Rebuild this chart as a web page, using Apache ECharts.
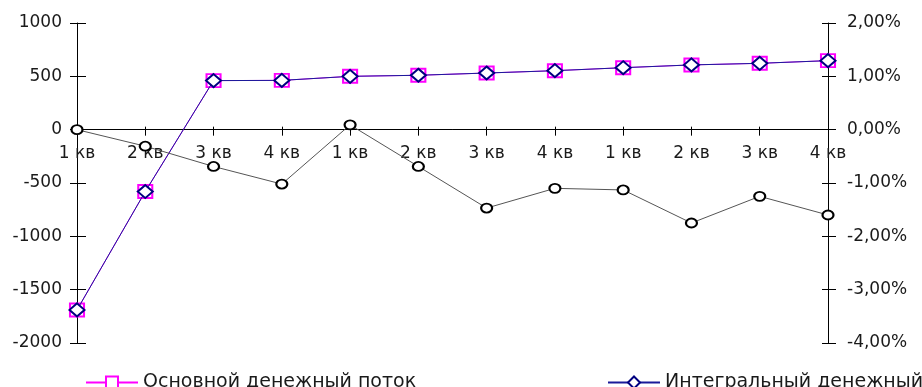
<!DOCTYPE html>
<html>
<head>
<meta charset="utf-8">
<script src="https://cdn.jsdelivr.net/npm/echarts@6/dist/echarts.min.js"></script>
<style>
  html, body { margin: 0; padding: 0; background: #fff; }
  #chart { width: 922px; height: 387px; }
</style>
</head>
<body>
<div id="chart"></div>
<script>
// Quarters over three years
const quarters = ['1 кв', '2 кв', '3 кв', '4 кв', '1 кв', '2 кв', '3 кв', '4 кв', '1 кв', '2 кв', '3 кв', '4 кв'];

// Cash flows (left axis)
const mainFlowName = 'Основной денежный поток';
const mainFlow = [-1690, -580, 460, 462, 500, 510, 531, 553, 581, 607, 622, 647];

const integralFlowName = 'Интегральный денежный';
const integralFlow = [-1690, -580, 460, 462, 500, 510, 531, 553, 581, 607, 622, 647];

// Rate, percent (right axis)
const rateName = 'Доходность';
const rate = [0, -0.31, -0.69, -1.02, 0.09, -0.69, -1.47, -1.10, -1.13, -1.75, -1.25, -1.60];

// Axis ranges
const leftMin = -2000, leftMax = 1000, leftStep = 500;
const rightMin = -4, rightMax = 2, rightStep = 1;

const FONT = 'DejaVu Sans';
const TXT = '#1a1a1a';

const GRID = { left: 77, right: 94, top: 23, bottom: 44 };
const plotHeight = 387 - GRID.top - GRID.bottom;
// Lift the category axis from the bottom edge up to the zero line of the left scale
const zeroLift = -plotHeight * (0 - leftMin) / (leftMax - leftMin);

const pctFmt = v => v.toFixed(2).replace('.', ',') + '%';

const chart = echarts.init(document.getElementById('chart'), null, { renderer: 'canvas' });

const baseX = {
  type: 'category',
  data: quarters,
  boundaryGap: false,
  position: 'bottom',
  offset: zeroLift,
  axisLine: { onZero: false, lineStyle: { color: '#000', width: 1 } },
  splitLine: { show: false }
};

chart.setOption({
  animation: false,
  backgroundColor: '#fff',
  grid: Object.assign({ containLabel: false }, GRID),
  xAxis: [
    Object.assign({}, baseX, {
      axisTick: { show: true, inside: false, length: 6, lineStyle: { color: '#000' } },
      axisLabel: { margin: 15, fontFamily: FONT, fontSize: 17, color: TXT }
    }),
    Object.assign({}, baseX, {
      axisTick: { show: true, inside: true, length: 3, lineStyle: { color: '#000' } },
      axisLabel: { show: false }
    })
  ],
  yAxis: [
    {
      type: 'value', position: 'left', min: leftMin, max: leftMax, interval: leftStep,
      axisLine: { show: true, onZero: false, lineStyle: { color: '#000' } },
      axisTick: { show: true, inside: false, length: 7, lineStyle: { color: '#000' } },
      splitLine: { show: false },
      axisLabel: { margin: 15, fontFamily: FONT, fontSize: 17, color: TXT, formatter: v => String(v) }
    },
    {
      type: 'value', position: 'right', min: rightMin, max: rightMax, interval: rightStep,
      axisLine: { show: true, onZero: false, lineStyle: { color: '#000' } },
      axisTick: { show: true, inside: false, length: 8, lineStyle: { color: '#000' } },
      splitLine: { show: false },
      axisLabel: { margin: 19, fontFamily: FONT, fontSize: 17, color: TXT, formatter: pctFmt }
    },
    {
      type: 'value', position: 'left', min: leftMin, max: leftMax, interval: leftStep,
      axisLine: { show: false, onZero: false },
      axisTick: { show: true, inside: true, length: 9, lineStyle: { color: '#000' } },
      splitLine: { show: false },
      axisLabel: { show: false }
    },
    {
      type: 'value', position: 'right', min: rightMin, max: rightMax, interval: rightStep,
      axisLine: { show: false, onZero: false },
      axisTick: { show: true, inside: true, length: 6, lineStyle: { color: '#000' } },
      splitLine: { show: false },
      axisLabel: { show: false }
    }
  ],
  legend: [
    {
      left: 80, top: 368,
      data: [mainFlowName],
      itemWidth: 52, itemHeight: 15,
      textStyle: { fontFamily: FONT, fontSize: 19, color: TXT }
    },
    {
      left: 602, top: 368,
      data: [integralFlowName],
      itemWidth: 52, itemHeight: 15,
      textStyle: { fontFamily: FONT, fontSize: 19, color: TXT }
    }
  ],
  series: [
    {
      name: mainFlowName, type: 'line', xAxisIndex: 0, yAxisIndex: 0,
      data: mainFlow,
      symbol: 'emptyRect', symbolSize: [14, 13],
      color: '#ff00ff',
      itemStyle: { color: '#ff00ff', borderWidth: 1.3 },
      lineStyle: { color: '#ff00ff', width: 1 },
      z: 3
    },
    {
      name: integralFlowName, type: 'line', xAxisIndex: 0, yAxisIndex: 0,
      data: integralFlow,
      symbol: 'emptyDiamond', symbolSize: [15, 13],
      color: '#000080',
      itemStyle: { color: '#000080', borderWidth: 1.2 },
      lineStyle: { color: '#1a1a9a', width: 1 },
      z: 4
    },
    {
      name: rateName, type: 'line', xAxisIndex: 0, yAxisIndex: 1,
      data: rate,
      symbol: 'emptyCircle', symbolSize: [11, 9],
      color: '#000',
      itemStyle: { color: '#000', borderWidth: 1.2 },
      lineStyle: { color: '#555', width: 1 },
      z: 5
    }
  ]
});
</script>
</body>
</html>
